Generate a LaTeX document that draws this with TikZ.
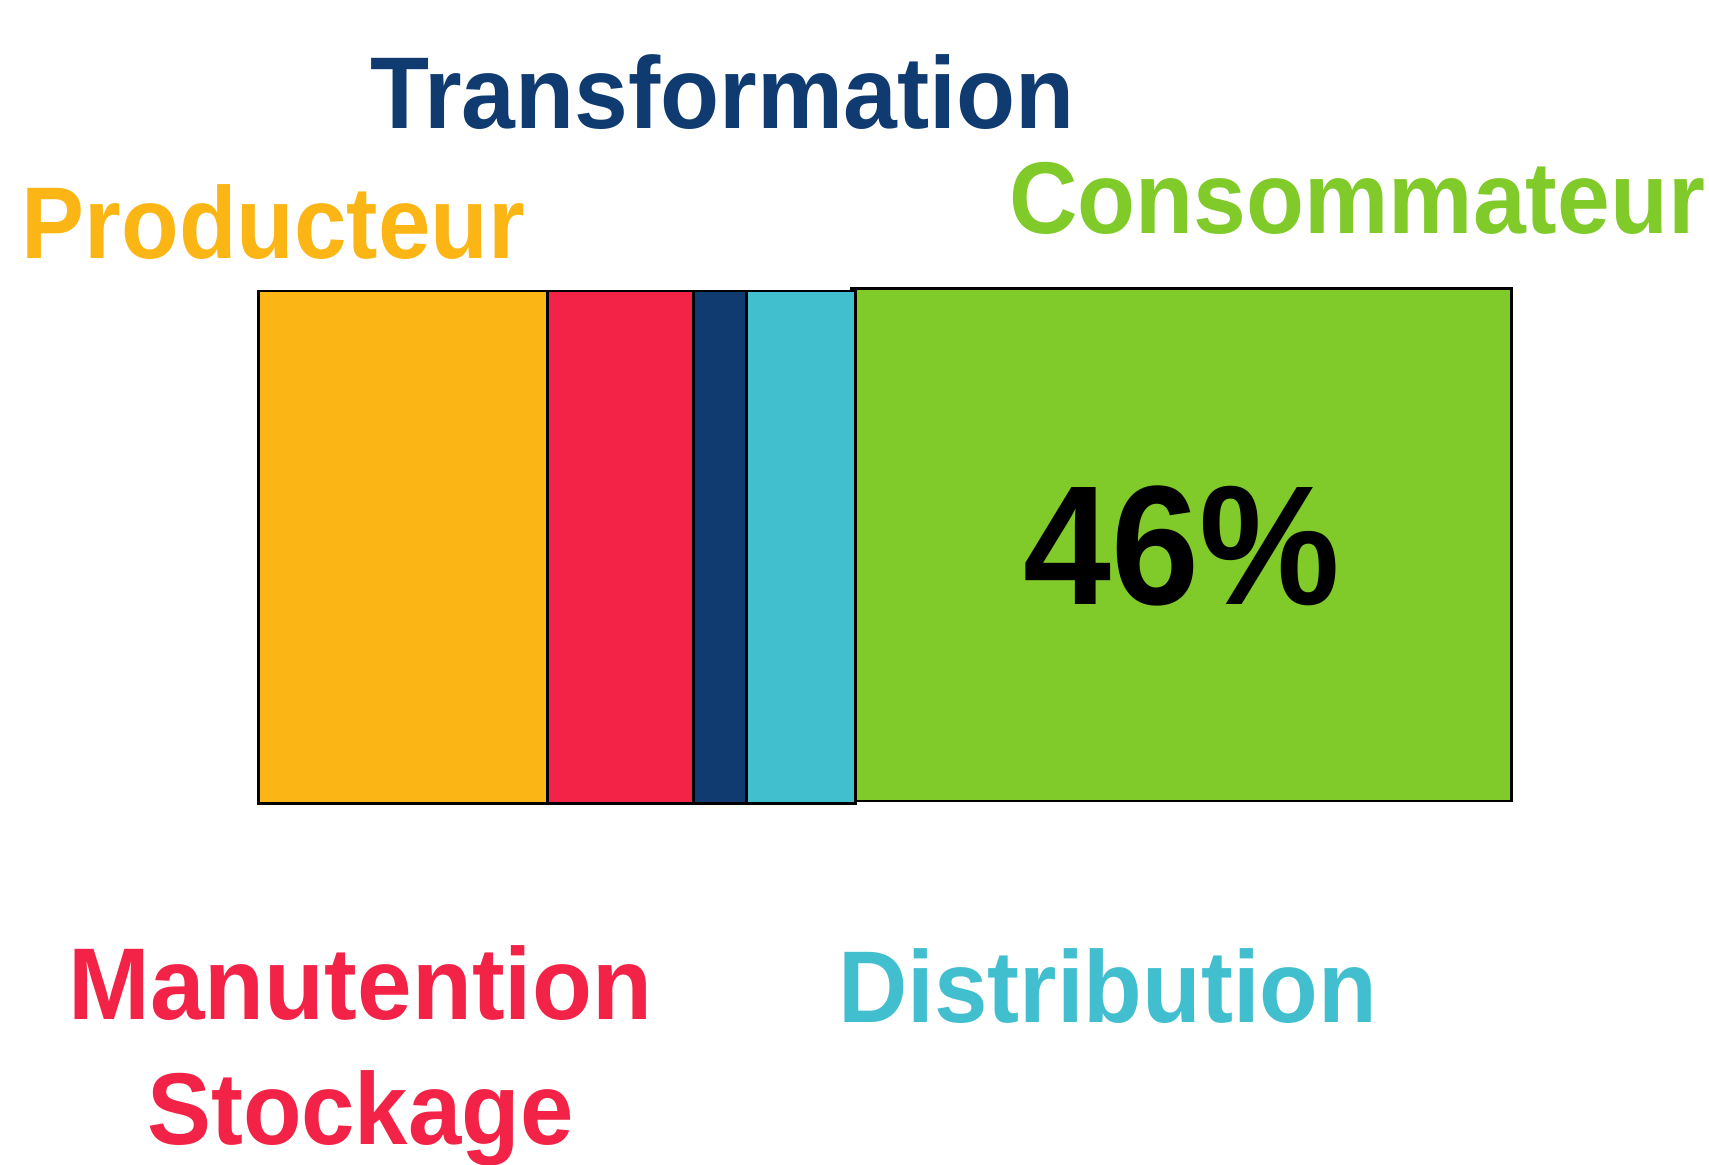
\documentclass[tikz,border=0pt]{standalone}
\usepackage{fontspec}
\setmainfont{Liberation Sans}
\definecolor{cYellow}{HTML}{FBB615}
\definecolor{cRed}{HTML}{F22346}
\definecolor{cNavy}{HTML}{103B70}
\definecolor{cCyan}{HTML}{42BFCF}
\definecolor{cGreen}{HTML}{80CA2A}
\tikzset{
  bar/.style={draw=black, line width=1.25pt},
  lbl/.style={anchor=base west, inner sep=0pt, outer sep=0pt, font=\bfseries\fontsize{46.8}{50}\selectfont},
}
\newcommand{\sq}[2][0.93]{\scalebox{#1}[1]{#2}}
\begin{document}
\begin{tikzpicture}[x=0.5pt,y=-0.5pt]
\useasboundingbox (0,0) rectangle (1568,1068);
% bars
\filldraw[bar, fill=cGreen] (781,265) rectangle (1387,735);
\filldraw[bar, fill=cYellow] (237,267) rectangle (502,737);
\filldraw[bar, fill=cRed] (502,267) rectangle (636,737);
\filldraw[bar, fill=cNavy] (636,267) rectangle (685,737);
\filldraw[bar, fill=cCyan] (685,267) rectangle (785,737);
% labels
\node[lbl, text=cNavy] (transf) at (340,118) {\sq[0.948]{Transformation}};
\node[lbl, text=cYellow] (prod) at (20,237) {\sq[0.925]{Producteur}};
\node[lbl, text=cGreen] (cons) at (926,214) {\sq{Consommateur}};
\node[lbl, text=cRed] (manut) at (63,935) {\sq[0.962]{Manutention}};
\node[lbl, text=cRed] (stock) at (135,1050) {\sq[0.94]{Stockage}};
\node[lbl, text=cCyan] (distr) at (769,938) {\sq[0.942]{Distribution}};
\node[lbl, text=black, font=\bfseries\fontsize{78}{80}\selectfont] (pct) at (939,555) {\sq{46\%}};
\end{tikzpicture}
\end{document}
